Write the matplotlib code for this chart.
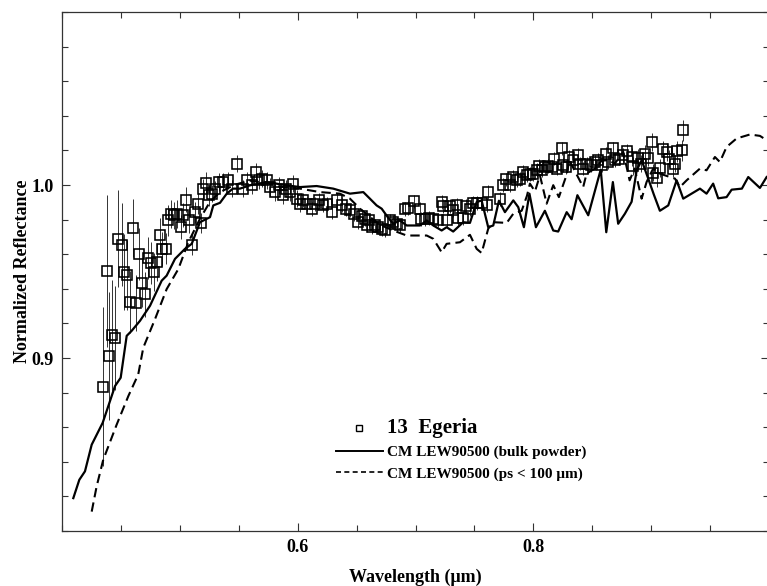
import matplotlib
matplotlib.use('Agg')
import matplotlib.pyplot as plt
from matplotlib.lines import Line2D
from matplotlib.ticker import MultipleLocator, FixedLocator

# 13 Egeria spectrum (normalized)
egeria_wl = [
    0.4345, 0.4379, 0.4401, 0.4427, 0.4452, 0.4478, 0.4507, 0.4529, 0.4552, 0.4577,
    0.4602, 0.4628, 0.4653, 0.4676, 0.4702, 0.4730, 0.4753, 0.4781, 0.4804, 0.4829,
    0.4851, 0.4882, 0.4902, 0.4925, 0.4953, 0.4978, 0.5007, 0.5029, 0.5052, 0.5080,
    0.5106, 0.5129, 0.5151, 0.5177, 0.5199, 0.5222, 0.5245, 0.5270, 0.5298, 0.5332,
    0.5369, 0.5411, 0.5445, 0.5482, 0.5533, 0.5567, 0.5610, 0.5650, 0.5672, 0.5695,
    0.5737, 0.5765, 0.5807, 0.5841, 0.5873, 0.5901, 0.5935, 0.5963, 0.5992, 0.6020,
    0.6048, 0.6082, 0.6119, 0.6147, 0.6183, 0.6217, 0.6251, 0.6288, 0.6336, 0.6373,
    0.6410, 0.6444, 0.6478, 0.6514, 0.6543, 0.6571, 0.6586, 0.6608, 0.6628, 0.6656,
    0.6684, 0.6713, 0.6741, 0.6783, 0.6811, 0.6840, 0.6868, 0.6911, 0.6939, 0.6987,
    0.7038, 0.7050, 0.7080, 0.7117, 0.7151, 0.7193, 0.7222, 0.7236, 0.7264, 0.7292,
    0.7320, 0.7349, 0.7363, 0.7400, 0.7428, 0.7462, 0.7490, 0.7524, 0.7561, 0.7604,
    0.7617, 0.7717, 0.7740, 0.7768, 0.7801, 0.7824, 0.7858, 0.7886, 0.7914, 0.7943,
    0.7971, 0.7999, 0.8028, 0.8050, 0.8070, 0.8098, 0.8126, 0.8155, 0.8175, 0.8203,
    0.8240, 0.8254, 0.8277, 0.8305, 0.8339, 0.8376, 0.8395, 0.8423, 0.8452, 0.8486,
    0.8523, 0.8551, 0.8580, 0.8616, 0.8636, 0.8673, 0.8692, 0.8729, 0.8763, 0.8797,
    0.8834, 0.8848, 0.8890, 0.8911, 0.8947, 0.8975, 0.9004, 0.9017, 0.9051, 0.9074,
    0.9102, 0.9131, 0.9153, 0.9182, 0.9202, 0.9221, 0.9258, 0.9272,
]
egeria_refl = [
    0.8834, 0.9505, 0.9012, 0.9132, 0.9114, 0.9689, 0.9654, 0.9499, 0.9480, 0.9323,
    0.9751, 0.9317, 0.9602, 0.9433, 0.9369, 0.9577, 0.9549, 0.9495, 0.9553, 0.9712,
    0.9631, 0.9631, 0.9795, 0.9834, 0.9824, 0.9834, 0.9756, 0.9828, 0.9916, 0.9795,
    0.9654, 0.9843, 0.9892, 0.9780, 0.9974, 1.0013, 0.9940, 0.9950, 0.9974, 1.0017,
    1.0017, 1.0027, 0.9979, 1.0124, 0.9979, 1.0027, 0.9998, 1.0075, 1.0027, 1.0037,
    1.0027, 0.9988, 0.9959, 0.9998, 0.9940, 0.9979, 0.9959, 1.0008, 0.9921, 0.9892,
    0.9911, 0.9892, 0.9863, 0.9892, 0.9911, 0.9882, 0.9892, 0.9843, 0.9911, 0.9882,
    0.9863, 0.9853, 0.9834, 0.9785, 0.9820, 0.9805, 0.9766, 0.9795, 0.9756, 0.9766,
    0.9756, 0.9747, 0.9737, 0.9795, 0.9785, 0.9776, 0.9766, 0.9863, 0.9868, 0.9905,
    0.9863, 0.9805, 0.9805, 0.9809, 0.9805, 0.9800, 0.9901, 0.9878, 0.9800, 0.9878,
    0.9853, 0.9886, 0.9809, 0.9809, 0.9878, 0.9863, 0.9897, 0.9897, 0.9897, 0.9882,
    0.9959, 0.9921, 0.9998, 1.0032, 1.0002, 1.0046, 1.0027, 1.0037, 1.0075, 1.0056,
    1.0066, 1.0066, 1.0085, 1.0110, 1.0085, 1.0104, 1.0110, 1.0104, 1.0153, 1.0095,
    1.0211, 1.0114, 1.0104, 1.0162, 1.0143, 1.0172, 1.0124, 1.0095, 1.0124, 1.0118,
    1.0133, 1.0143, 1.0114, 1.0182, 1.0133, 1.0211, 1.0143, 1.0153, 1.0172, 1.0195,
    1.0162, 1.0110, 1.0157, 1.0124, 1.0182, 1.0157, 1.0249, 1.0071, 1.0041, 1.0099,
    1.0206, 1.0191, 1.0153, 1.0095, 1.0124, 1.0195, 1.0201, 1.0317,
]
egeria_err = [
    0.046, 0.044, 0.037, 0.032, 0.030, 0.028, 0.024, 0.022, 0.020, 0.018,
    0.017, 0.016, 0.015, 0.014, 0.013, 0.012, 0.012, 0.011, 0.011, 0.010,
    0.010, 0.009, 0.009, 0.008, 0.008, 0.008, 0.007, 0.007, 0.007, 0.007,
    0.006, 0.006, 0.006, 0.006, 0.006, 0.006, 0.006, 0.005, 0.005, 0.005,
    0.005, 0.005, 0.005, 0.005, 0.005, 0.005, 0.005, 0.005, 0.005, 0.005,
    0.005, 0.005, 0.005, 0.005, 0.005, 0.005, 0.005, 0.005, 0.005, 0.005,
    0.004, 0.004, 0.004, 0.004, 0.004, 0.004, 0.004, 0.004, 0.004, 0.004,
    0.004, 0.004, 0.004, 0.004, 0.004, 0.004, 0.004, 0.004, 0.004, 0.004,
    0.004, 0.004, 0.004, 0.004, 0.004, 0.004, 0.004, 0.004, 0.004, 0.004,
    0.004, 0.004, 0.004, 0.004, 0.004, 0.004, 0.004, 0.004, 0.004, 0.004,
    0.004, 0.004, 0.004, 0.004, 0.004, 0.004, 0.004, 0.004, 0.004, 0.004,
    0.004, 0.004, 0.004, 0.004, 0.004, 0.004, 0.004, 0.004, 0.004, 0.004,
    0.004, 0.004, 0.004, 0.004, 0.004, 0.004, 0.004, 0.004, 0.004, 0.004,
    0.004, 0.004, 0.004, 0.004, 0.004, 0.004, 0.004, 0.004, 0.004, 0.004,
    0.004, 0.004, 0.004, 0.004, 0.004, 0.004, 0.004, 0.004, 0.004, 0.004,
    0.005, 0.005, 0.005, 0.005, 0.005, 0.005, 0.005, 0.005, 0.005, 0.005,
    0.005, 0.005, 0.005, 0.005, 0.005, 0.006, 0.006, 0.006,
]

# CM LEW90500, bulk powder
bulk_wl = [
    0.4096, 0.4147, 0.4195, 0.4252, 0.4345, 0.4393, 0.4450, 0.4498, 0.4549, 0.4591,
    0.4662, 0.4747, 0.4846, 0.4888, 0.4959, 0.5044, 0.5101, 0.5171, 0.5256, 0.5284,
    0.5341, 0.5398, 0.5451, 0.5510, 0.5595, 0.5737, 0.5907, 0.6020, 0.6161, 0.6302,
    0.6444, 0.6557, 0.6613, 0.6670, 0.6713, 0.6769, 0.6811, 0.6868, 0.6925, 0.7038,
    0.7095, 0.7151, 0.7222, 0.7264, 0.7320, 0.7405, 0.7462, 0.7519, 0.7561, 0.7617,
    0.7660, 0.7708, 0.7759, 0.7830, 0.7872, 0.7920, 0.7967, 0.8022, 0.8098, 0.8169,
    0.8211, 0.8283, 0.8325, 0.8374, 0.8466, 0.8523, 0.8572, 0.8619, 0.8675, 0.8720,
    0.8777, 0.8834, 0.8877, 0.8919, 0.8975, 0.9023, 0.9074, 0.9145, 0.9216, 0.9272,
    0.9343, 0.9414, 0.9470, 0.9526, 0.9569, 0.9640, 0.9683, 0.9770, 0.9824, 0.9923,
    0.9980,
]
bulk_refl = [
    0.8190, 0.8296, 0.8345, 0.8499, 0.8625, 0.8722, 0.8838, 0.8886, 0.9128, 0.9157,
    0.9215, 0.9302, 0.9447, 0.9476, 0.9573, 0.9631, 0.9660, 0.9785, 0.9814, 0.9882,
    0.9897, 0.9950, 0.9979, 0.9979, 0.9998, 1.0017, 0.9998, 0.9988, 0.9994, 0.9979,
    0.9950, 0.9959, 0.9921, 0.9882, 0.9863, 0.9810, 0.9776, 0.9795, 0.9766, 0.9766,
    0.9795, 0.9766, 0.9737, 0.9756, 0.9731, 0.9785, 0.9781, 0.9901, 0.9911, 0.9756,
    0.9766, 0.9909, 0.9843, 0.9911, 0.9872, 0.9756, 0.9950, 0.9756, 0.9851, 0.9737,
    0.9731, 0.9843, 0.9802, 0.9941, 0.9825, 0.9967, 1.0089, 0.9727, 1.0017, 0.9776,
    0.9834, 0.9903, 1.0085, 1.0143, 1.0037, 0.9944, 0.9851, 0.9882, 1.0027, 0.9921,
    0.9950, 0.9979, 0.9950, 1.0008, 0.9923, 0.9930, 0.9973, 0.9979, 1.0046, 0.9983,
    1.0046,
]

# CM LEW90500, particle size < 100 um
fine_wl = [
    0.4252, 0.4294, 0.4350, 0.4464, 0.4563, 0.4647, 0.4690, 0.4789, 0.4888, 0.4987,
    0.5072, 0.5171, 0.5256, 0.5341, 0.5468, 0.5595, 0.5723, 0.5850, 0.6020, 0.6189,
    0.6359, 0.6444, 0.6529, 0.6613, 0.6698, 0.6811, 0.6925, 0.7095, 0.7151, 0.7222,
    0.7264, 0.7377, 0.7462, 0.7519, 0.7561, 0.7617, 0.7660, 0.7774, 0.7830, 0.7901,
    0.7946, 0.7971, 0.8014, 0.8056, 0.8113, 0.8169, 0.8217, 0.8283, 0.8305, 0.8423,
    0.8452, 0.8523, 0.8580, 0.8636, 0.8692, 0.8763, 0.8817, 0.8860, 0.8919, 0.8961,
    0.9017, 0.9074, 0.9159, 0.9202, 0.9244, 0.9301, 0.9414, 0.9470, 0.9541, 0.9583,
    0.9640, 0.9725, 0.9838, 0.9923, 0.9980,
]
fine_refl = [
    0.8112, 0.8258, 0.8412, 0.8615, 0.8780, 0.8905, 0.9060, 0.9224, 0.9398, 0.9514,
    0.9669, 0.9805, 0.9903, 0.9959, 1.0002, 1.0025, 1.0013, 0.9990, 0.9979, 0.9959,
    0.9950, 0.9921, 0.9863, 0.9816, 0.9770, 0.9737, 0.9708, 0.9708, 0.9689, 0.9611,
    0.9660, 0.9669, 0.9712, 0.9631, 0.9607, 0.9747, 0.9785, 0.9781, 0.9834, 0.9851,
    0.9938, 1.0008, 0.9963, 1.0056, 0.9892, 0.9999, 0.9930, 1.0060, 1.0143, 0.9988,
    1.0066, 1.0095, 1.0141, 1.0143, 1.0124, 1.0191, 1.0027, 1.0095, 0.9921, 1.0017,
    1.0095, 1.0066, 1.0046, 1.0037, 0.9988, 1.0027, 1.0095, 1.0085, 1.0162, 1.0133,
    1.0220, 1.0269, 1.0292, 1.0284, 1.0259,
]

serif = ['Liberation Serif', 'DejaVu Serif']

fig = plt.figure(figsize=(7.67, 5.86), dpi=100)
ax = fig.add_axes([62 / 767, 55 / 586, 707 / 767, 519 / 586])

ax.plot(bulk_wl, bulk_refl, color='black', lw=1.6, ls='-', zorder=3)
ax.plot(fine_wl, fine_refl, color='black', lw=1.5, ls=(0, (4.5, 2.5)), zorder=3)
ax.errorbar(egeria_wl, egeria_refl, yerr=egeria_err, fmt='s', mfc='none', mec='black',
            ms=6.5, mew=1.15, ecolor='#333333', elinewidth=0.7, capsize=0, zorder=2)

ax.set_xlim(0.4, 1.0)
ax.set_ylim(0.8, 1.1)
ax.xaxis.set_major_locator(FixedLocator([0.6, 0.8]))
ax.xaxis.set_minor_locator(MultipleLocator(0.05))
ax.yaxis.set_major_locator(FixedLocator([0.9, 1.0]))
ax.yaxis.set_minor_locator(MultipleLocator(0.02))
ax.tick_params(which='both', direction='in', top=True, right=True, width=0.8, color='#333333')
ax.tick_params(which='major', length=6, pad=6)
ax.tick_params(which='minor', length=4)
for lab in ax.get_xticklabels() + ax.get_yticklabels():
    lab.set_family(serif)
    lab.set_weight('bold')
    lab.set_fontsize(13)
for sp in ax.spines.values():
    sp.set_linewidth(0.9)
    sp.set_color('#333333')

ax.set_xlabel('Wavelength (\u03bcm)', family=serif, weight='bold', fontsize=13, labelpad=9)
ax.set_ylabel('Normalized Reflectance', family=serif, weight='bold', fontsize=13, labelpad=0)

# legend
handles = [
    Line2D([], [], ls='none', marker='s', mfc='none', mec='black', ms=5, mew=1.0),
    Line2D([], [], color='black', lw=1.4),
    Line2D([], [], color='black', lw=1.2, ls=(0, (3, 2))),
]
labels = ['13  Egeria', 'CM LEW90500 (bulk powder)', 'CM LEW90500 (ps < 100 \u03bcm)']
leg = ax.legend(handles, labels, loc='upper left', bbox_to_anchor=(0.387, 0.218),
                frameon=False, borderpad=0, borderaxespad=0, handlelength=3.1,
                handletextpad=0.25, labelspacing=0.5,
                prop={'family': serif, 'weight': 'bold', 'size': 11})
leg.get_texts()[0].set_fontsize(15)

fig.savefig('out.png', dpi=100)
